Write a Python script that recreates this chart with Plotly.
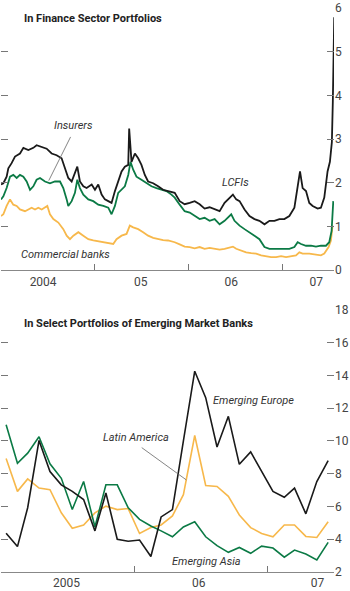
import pandas as pd
import plotly.graph_objects as go
from plotly.subplots import make_subplots

# ---------------- Top panel data (decimal years, values) ----------------
lcfi_t = [2004.000, 2004.025, 2004.060, 2004.078, 2004.113, 2004.149, 2004.202, 2004.238, 2004.291, 2004.344,
          2004.379, 2004.433, 2004.486, 2004.539, 2004.592, 2004.645, 2004.681, 2004.716, 2004.752, 2004.787,
          2004.812, 2004.840, 2004.876, 2004.911, 2004.965, 2005.000, 2005.035, 2005.071, 2005.106, 2005.142,
          2005.177, 2005.213, 2005.248, 2005.284, 2005.319, 2005.355, 2005.365, 2005.390, 2005.426, 2005.461,
          2005.496, 2005.532, 2005.567, 2005.621, 2005.674, 2005.727, 2005.780, 2005.833, 2005.851, 2005.904,
          2005.957, 2006.011, 2006.064, 2006.117, 2006.170, 2006.223, 2006.277, 2006.330, 2006.383, 2006.436,
          2006.472, 2006.507, 2006.543, 2006.596, 2006.649, 2006.702, 2006.755, 2006.809, 2006.862, 2006.915,
          2006.968, 2007.021, 2007.074, 2007.128, 2007.163, 2007.188, 2007.216, 2007.252, 2007.287, 2007.323,
          2007.376, 2007.411, 2007.447, 2007.482, 2007.507, 2007.528, 2007.538, 2007.546, 2007.553]
lcfi_v = [1.96, 1.99, 2.14, 2.33, 2.45, 2.60, 2.67, 2.80, 2.75, 2.80,
          2.86, 2.82, 2.78, 2.67, 2.63, 2.56, 2.33, 2.11, 2.03, 2.26,
          2.37, 2.03, 1.92, 1.88, 1.96, 1.84, 1.96, 1.73, 1.62, 1.58,
          1.54, 1.81, 2.03, 2.26, 2.37, 2.41, 3.24, 2.48, 2.67, 2.56,
          2.41, 2.18, 2.03, 1.99, 1.92, 1.84, 1.81, 1.77, 1.77, 1.58,
          1.51, 1.54, 1.58, 1.51, 1.41, 1.44, 1.39, 1.35, 1.54, 1.66,
          1.73, 1.62, 1.58, 1.39, 1.24, 1.17, 1.13, 1.05, 1.13, 1.13,
          1.17, 1.17, 1.24, 1.43, 1.88, 2.26, 1.88, 1.81, 1.54, 1.47,
          1.41, 1.43, 1.66, 2.26, 2.48, 2.93, 3.84, 4.97, 5.79]

ins_t = [2004.000, 2004.025, 2004.060, 2004.096, 2004.131, 2004.167, 2004.202, 2004.238, 2004.273, 2004.309,
         2004.344, 2004.379, 2004.415, 2004.468, 2004.521, 2004.574, 2004.628, 2004.663, 2004.699, 2004.716,
         2004.752, 2004.787, 2004.812, 2004.840, 2004.876, 2004.929, 2004.982, 2005.035, 2005.089, 2005.142,
         2005.177, 2005.213, 2005.248, 2005.284, 2005.319, 2005.355, 2005.379, 2005.408, 2005.443, 2005.496,
         2005.550, 2005.603, 2005.656, 2005.709, 2005.762, 2005.816, 2005.851, 2005.904, 2005.957, 2006.011,
         2006.064, 2006.117, 2006.170, 2006.223, 2006.277, 2006.330, 2006.383, 2006.454, 2006.489, 2006.543,
         2006.596, 2006.649, 2006.702, 2006.755, 2006.809, 2006.862, 2006.915, 2006.968, 2007.021, 2007.074,
         2007.128, 2007.163, 2007.199, 2007.252, 2007.305, 2007.358, 2007.411, 2007.465, 2007.500, 2007.525,
         2007.543]
ins_v = [1.62, 1.69, 1.88, 2.14, 2.18, 2.11, 2.18, 2.14, 2.03, 1.84,
         1.92, 2.07, 2.11, 2.03, 1.99, 2.03, 2.03, 1.88, 1.62, 1.47,
         1.58, 1.77, 2.07, 1.88, 1.73, 1.62, 1.58, 1.50, 1.47, 1.43,
         1.28, 1.47, 1.77, 1.84, 1.92, 2.18, 2.48, 2.30, 2.14, 2.07,
         1.99, 1.92, 1.88, 1.84, 1.81, 1.73, 1.66, 1.50, 1.35, 1.32,
         1.24, 1.17, 1.20, 1.13, 1.17, 1.05, 1.13, 1.28, 1.13, 1.02,
         0.94, 0.87, 0.79, 0.71, 0.53, 0.49, 0.49, 0.50, 0.49, 0.49,
         0.53, 0.64, 0.60, 0.56, 0.56, 0.54, 0.56, 0.56, 0.64, 0.90,
         1.58]

com_t = [2004.000, 2004.025, 2004.060, 2004.096, 2004.131, 2004.167, 2004.202, 2004.255, 2004.291, 2004.326,
         2004.362, 2004.397, 2004.433, 2004.468, 2004.493, 2004.521, 2004.557, 2004.610, 2004.663, 2004.699,
         2004.734, 2004.770, 2004.823, 2004.876, 2004.929, 2004.982, 2005.035, 2005.089, 2005.142, 2005.195,
         2005.230, 2005.284, 2005.337, 2005.372, 2005.408, 2005.461, 2005.514, 2005.567, 2005.621, 2005.674,
         2005.727, 2005.780, 2005.833, 2005.851, 2005.904, 2005.957, 2006.011, 2006.064, 2006.117, 2006.170,
         2006.223, 2006.277, 2006.330, 2006.383, 2006.436, 2006.472, 2006.507, 2006.560, 2006.613, 2006.667,
         2006.720, 2006.773, 2006.826, 2006.879, 2006.933, 2006.986, 2007.039, 2007.092, 2007.145, 2007.181,
         2007.216, 2007.287, 2007.358, 2007.411, 2007.447, 2007.493, 2007.518, 2007.535]
com_v = [1.24, 1.28, 1.47, 1.62, 1.50, 1.47, 1.39, 1.35, 1.39, 1.43,
         1.39, 1.43, 1.39, 1.43, 1.47, 1.28, 1.17, 1.09, 0.94, 0.79,
         0.71, 0.79, 0.87, 0.79, 0.71, 0.68, 0.66, 0.64, 0.62, 0.60,
         0.71, 0.79, 0.83, 1.02, 0.98, 0.94, 0.87, 0.79, 0.74, 0.71,
         0.69, 0.68, 0.66, 0.64, 0.59, 0.54, 0.53, 0.50, 0.53, 0.49,
         0.51, 0.49, 0.47, 0.49, 0.51, 0.54, 0.49, 0.45, 0.41, 0.39,
         0.38, 0.34, 0.32, 0.30, 0.30, 0.32, 0.30, 0.32, 0.34, 0.41,
         0.38, 0.38, 0.35, 0.34, 0.38, 0.53, 0.68, 1.02]

# ---------------- Bottom panel data (monthly) ----------------
em_months = pd.date_range("2005-01-01", periods=30, freq="MS") + pd.Timedelta(days=14)
em_europe = [4.37, 3.55, 5.92, 10.03, 8.13, 7.32, 6.92, 6.42, 4.51, 6.82,
             4.00, 3.88, 3.95, 2.95, 5.36, 5.81, 10.0, 14.25, 12.64, 9.63,
             11.50, 8.57, 9.33, 8.13, 6.92, 6.56, 7.12, 5.55, 7.52, 8.80]
latin_america = [8.93, 6.92, 7.68, 7.12, 7.02, 5.61, 4.67, 4.87, 5.61, 6.02,
                 5.81, 5.87, 4.35, 4.71, 4.87, 5.42, 6.72, 10.33, 7.28, 7.22,
                 6.62, 5.48, 4.71, 4.35, 4.15, 4.87, 4.87, 4.17, 4.11, 5.07]
em_asia = [10.98, 8.63, 9.25, 10.25, 8.60, 7.72, 5.81, 7.52, 4.75, 7.32,
           7.32, 5.92, 5.21, 4.81, 4.51, 4.15, 4.75, 5.07, 4.15, 3.61,
           3.20, 3.50, 3.14, 3.58, 3.46, 2.90, 3.34, 3.10, 2.74, 3.81]

top_ticks = [0, 1, 2, 3, 4, 5, 6]
bot_ticks = [2, 4, 6, 8, 10, 12, 14, 16, 18]
top_year_labels = ["2004", "05", "06", "07"]
bot_year_labels = ["2005", "06", "07"]


def yr(t):
    y = int(t)
    s = pd.Timestamp(y, 1, 1)
    e = pd.Timestamp(y + 1, 1, 1)
    return s + (e - s) * (t - y)


BLACK = "#1a1a1a"
GREEN = "#0b7a45"
GOLD = "#f7b84b"
FONT = "Roboto, Liberation Sans, sans-serif"
TXT = "#333333"

fig = make_subplots(rows=2, cols=1, vertical_spacing=0.0)

fig.add_trace(go.Scatter(x=[yr(t) for t in com_t], y=com_v, mode="lines",
                         line=dict(color=GOLD, width=1.8)), 1, 1)
fig.add_trace(go.Scatter(x=[yr(t) for t in ins_t], y=ins_v, mode="lines",
                         line=dict(color=GREEN, width=1.8)), 1, 1)
fig.add_trace(go.Scatter(x=[yr(t) for t in lcfi_t], y=lcfi_v, mode="lines",
                         line=dict(color=BLACK, width=1.8)), 1, 1)

fig.add_trace(go.Scatter(x=em_months, y=latin_america, mode="lines",
                         line=dict(color=GOLD, width=1.6)), 2, 1)
fig.add_trace(go.Scatter(x=em_months, y=em_asia, mode="lines",
                         line=dict(color=GREEN, width=1.6)), 2, 1)
fig.add_trace(go.Scatter(x=em_months, y=em_europe, mode="lines",
                         line=dict(color=BLACK, width=1.6)), 2, 1)

xcommon = dict(type="date", showgrid=False, zeroline=False, showline=True,
               linecolor="#888888", linewidth=1, ticks="inside", ticklen=0,
               tickfont=dict(family=FONT, size=12, color="#444444"))
fig.update_xaxes(**xcommon, row=1, col=1,
                 range=["2004-01-01", "2007-07-21"],
                 tickvals=["2004-06-13", "2005-06-28", "2006-06-16", "2007-05-13"],
                 ticktext=top_year_labels,
                 minor=dict(tickvals=["2004-01-01", "2005-01-01", "2006-01-01", "2007-01-01"],
                            ticks="inside", ticklen=6, tickcolor="#777777", tickwidth=1))
fig.update_xaxes(**xcommon, row=2, col=1,
                 range=["2005-01-01", "2007-07-01"],
                 tickvals=["2005-06-29", "2006-06-26", "2007-05-17"],
                 ticktext=bot_year_labels,
                 minor=dict(tickvals=["2005-01-01", "2006-01-01", "2007-01-01"],
                            ticks="inside", ticklen=6, tickcolor="#777777", tickwidth=1))

ycommon = dict(side="right", showgrid=False, zeroline=False, showline=False,
               ticks="inside", ticklen=7, tickwidth=1, tickcolor="#777777", mirror="ticks",
               tickfont=dict(family=FONT, size=12, color="#444444"))
fig.update_yaxes(**ycommon, row=1, col=1, range=[0, 6], tickvals=top_ticks)
fig.update_yaxes(**ycommon, row=2, col=1, range=[2, 18], tickvals=bot_ticks)

fig.update_layout(
    width=350, height=591, margin=dict(l=1, r=15, t=5, b=16),
    paper_bgcolor="white", plot_bgcolor="white", showlegend=False,
)
fig.layout.yaxis.domain = [0.5351, 1.0]
fig.layout.yaxis2.domain = [0.0, 0.4649]

# Titles
fig.add_annotation(xref="paper", yref="paper", x=0.063, y=0.9807, xanchor="left", yanchor="middle",
                   text="<b>In Finance Sector Portfolios</b>", showarrow=False,
                   font=dict(family=FONT, size=11, color="#222222"))
fig.add_annotation(xref="paper", yref="paper", x=0.063, y=0.4404, xanchor="left", yanchor="middle",
                   text="<b>In Select Portfolios of Emerging Market Banks</b>", showarrow=False,
                   font=dict(family=FONT, size=11, color="#222222"))

ital = dict(family=FONT, size=11, color=TXT)
# Top labels
fig.add_annotation(x="2004-10-10", y=3.30, xref="x", yref="y", text="<i>Insurers</i>", showarrow=False, font=ital)
fig.add_annotation(x="2006-07-01", y=2.01, xref="x", yref="y", text="<i>LCFIs</i>", showarrow=False, font=ital)
fig.add_annotation(x="2004-09-10", y=0.36, xref="x", yref="y", text="<i>Commercial banks</i>", showarrow=False, font=ital)
fig.add_shape(type="line", xref="x", yref="y", x0="2004-09-28", y0=3.05, x1="2004-07-05", y1=2.05,
              line=dict(color="#666666", width=0.8))
# Bottom labels
fig.add_annotation(x="2006-01-05", y=10.19, xref="x2", yref="y2", text="<i>Latin America</i>", showarrow=False, font=ital)
fig.add_annotation(x="2006-11-23", y=12.44, xref="x2", yref="y2", text="<i>Emerging Europe</i>", showarrow=False, font=ital)
fig.add_annotation(x="2006-07-17", y=2.66, xref="x2", yref="y2", text="<i>Emerging Asia</i>", showarrow=False, font=ital)
fig.add_shape(type="line", xref="x2", yref="y2", x0="2006-01-21", y0=9.59, x1="2006-05-23", y1=7.62,
              line=dict(color="#666666", width=0.8))

fig.write_html("out.html")
